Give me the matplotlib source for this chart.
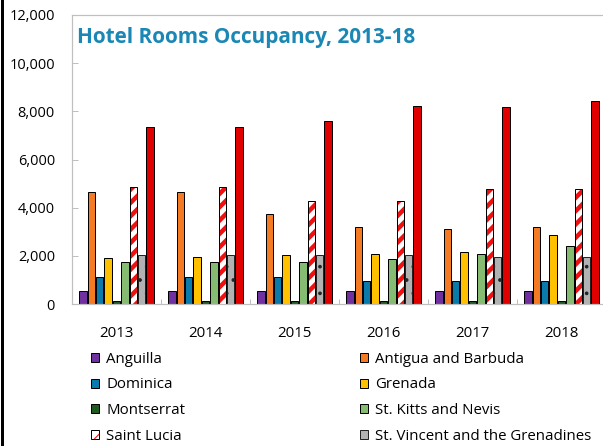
"""Hotel rooms occupancy bar chart, 2013-18."""

import matplotlib

matplotlib.use("Agg")
import matplotlib.pyplot as plt
import numpy as np
from matplotlib.legend_handler import HandlerTuple
from matplotlib.lines import Line2D
from matplotlib.patches import Patch
from matplotlib.ticker import FuncFormatter, MultipleLocator

years = ["2013", "2014", "2015", "2016", "2017", "2018"]

anguilla = [550, 550, 550, 550, 550, 550]
antigua_barbuda = [4670, 4670, 3750, 3180, 3100, 3180]
dominica = [1130, 1130, 1130, 940, 940, 940]
grenada = [1920, 1950, 2050, 2080, 2150, 2850]
montserrat = [140, 140, 140, 140, 140, 140]
st_kitts_nevis = [1730, 1730, 1730, 1850, 2080, 2390]
saint_lucia = [4860, 4860, 4260, 4260, 4790, 4790]
st_vincent = [2050, 2050, 2050, 2050, 1950, 1950]
# ninth series: its legend row falls below the visible area
unlabelled_red = [7350, 7350, 7600, 8220, 8170, 8440]

series = [
    ("Anguilla", anguilla, "#7030A0", None),
    ("Antigua and Barbuda", antigua_barbuda, "#F47A24", None),
    ("Dominica", dominica, "#0A7AAA", None),
    ("Grenada", grenada, "#FFC000", None),
    ("Montserrat", montserrat, "#1F5A1F", None),
    ("St. Kitts and Nevis", st_kitts_nevis, "#86BC72", None),
    ("Saint Lucia", saint_lucia, "white", "stripes"),
    ("St. Vincent and the Grenadines", st_vincent, "#B2B2B2", "dots"),
    ("_nolegend_", unlabelled_red, "#E00000", None),
]

DPI = 80
W, H = 603, 446
STRIPE_RED = "#EE1111"
TITLE_BLUE = "#1A87B5"
AXIS_GRAY = "#BFBFBF"

plt.rcParams["font.family"] = ["Open Sans", "DejaVu Sans"]


def px(v):
    return v * 72 / DPI


fig = plt.figure(figsize=(W / DPI, H / DPI), dpi=DPI)
ax = fig.add_axes([72 / W, (H - 304) / H, (606 - 72) / W, (304 - 15) / H])

x = np.arange(len(years))
step = 0.0944
width = 0.082
handles = []
for i, (name, vals, color, pattern) in enumerate(series):
    pos = x + (i - 4) * step
    if pattern == "stripes":
        with plt.rc_context({"hatch.linewidth": px(4.5)}):
            ax.bar(pos, vals, width, color="white", edgecolor=STRIPE_RED,
                   hatch="//", linewidth=0)
            h0 = Patch(facecolor="white", edgecolor=STRIPE_RED, hatch="//",
                       lw=0)
        ax.bar(pos, vals, width, fill=False, edgecolor="black",
               linewidth=px(1))
        h = (h0, Patch(fill=False, edgecolor="black", lw=px(1)))
    elif pattern == "dots":
        with plt.rc_context({"hatch.linewidth": px(1)}):
            ax.bar(pos, vals, width, color=color, edgecolor="#222222",
                   hatch=".", linewidth=px(1))
        h = Patch(facecolor=color, edgecolor="#222222", lw=px(1))
    else:
        ax.bar(pos, vals, width, color=color, edgecolor="black",
               linewidth=px(1))
        h = Patch(facecolor=color, edgecolor="black", lw=px(1))
    if not name.startswith("_"):
        handles.append((h, name))

ax.set_xlim(-0.5, len(years) - 0.5)
ax.set_ylim(0, 12000)
ax.yaxis.set_major_locator(MultipleLocator(2000))
ax.yaxis.set_major_formatter(FuncFormatter(lambda v, _: f"{int(v):,}"))
ax.set_xticks(x)
ax.set_xticklabels(years)
ax.set_xticks(x[:-1] + 0.5, minor=True)

ax.tick_params(axis="y", direction="in", length=px(6), width=px(1),
               color=AXIS_GRAY, pad=px(17), labelsize=px(14.5))
ax.tick_params(axis="x", which="major", length=0, pad=px(22),
               labelsize=px(15))
ax.tick_params(axis="x", which="minor", direction="in", length=px(5),
               width=px(1), color=AXIS_GRAY)
for side in ("left", "top", "bottom"):
    ax.spines[side].set_color(AXIS_GRAY)
    ax.spines[side].set_linewidth(px(1.2))
ax.spines["right"].set_visible(False)

fig.text(77 / W, (H - 37) / H, "Hotel Rooms Occupancy, 2013-18",
         color=TITLE_BLUE, fontsize=px(20.7), fontweight="bold",
         va="center", ha="left")

# two legend columns, four rows each
for col, (x0, items) in enumerate([(91, handles[0::2]), (360, handles[1::2])]):
    fig.legend([h for h, _ in items], [n for _, n in items],
               loc="upper left", bbox_to_anchor=(x0 / W, (H - 352) / H),
               frameon=False, fontsize=px(15), handlelength=0.55,
               handleheight=0.55, handletextpad=0.45, labelspacing=0.7,
               borderpad=0, borderaxespad=0,
               handler_map={tuple: HandlerTuple(ndivide=1, pad=0)})

fig.add_artist(Line2D([2 / W, 2 / W], [0, 1], color="black", lw=px(3)))

fig.savefig("out.png", dpi=DPI)
